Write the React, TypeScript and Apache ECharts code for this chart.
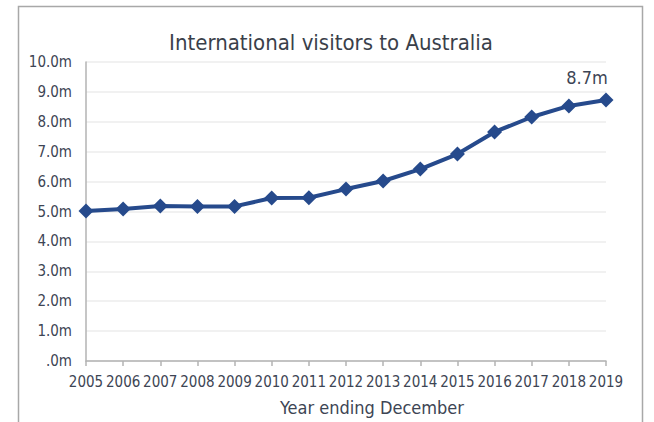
import React, { useEffect, useRef } from "react";
import * as echarts from "echarts";

const years = ["2005", "2006", "2007", "2008", "2009", "2010", "2011", "2012", "2013", "2014", "2015", "2016", "2017", "2018", "2019"];
const visitors = [5.02, 5.08, 5.18, 5.17, 5.17, 5.45, 5.46, 5.75, 6.02, 6.42, 6.92, 7.66, 8.16, 8.53, 8.73];
const titleText = "International visitors to Australia";
const xAxisTitle = "Year ending December";

const FONT = "'DejaVu Sans Condensed', 'DejaVu Sans', sans-serif";
const TEXT = "#3d4554";

export default function App() {
  const ref = useRef<HTMLDivElement>(null);
  useEffect(() => {
    if (!ref.current) return;
    const chart = echarts.init(ref.current, null, { renderer: "svg" });
    const last = visitors.length - 1;
    chart.setOption({
      animation: false,
      backgroundColor: "#ffffff",
      graphic: [
        {
          type: "rect",
          shape: { x: 18.5, y: 6.5, width: 624, height: 440 },
          style: { fill: "none", stroke: "#a8a8a8", lineWidth: 1.5 },
          silent: true,
        },
        {
          type: "text",
          x: 331,
          y: 42,
          style: {
            text: titleText,
            fontFamily: FONT,
            fontSize: 22,
            fill: "#3a3f4a",
            align: "center",
            verticalAlign: "middle",
          },
        },
        {
          type: "text",
          x: 372,
          y: 407,
          style: {
            text: xAxisTitle,
            fontFamily: FONT,
            fontSize: 18,
            fill: TEXT,
            align: "center",
            verticalAlign: "middle",
          },
        },
      ],
      grid: { left: 86, right: 48, top: 62, bottom: 61, containLabel: false },
      xAxis: {
        type: "category",
        data: years,
        boundaryGap: false,
        axisLine: { lineStyle: { color: "#b3b3b3", width: 1.5 } },
        axisTick: { show: true, length: 5, lineStyle: { color: "#b3b3b3", width: 1.5 } },
        axisLabel: { fontFamily: FONT, fontSize: 15, color: TEXT, margin: 13, interval: 0 },
        splitLine: { show: false },
      },
      yAxis: {
        type: "value",
        min: 0,
        max: 10,
        interval: 1,
        axisLine: { show: true, lineStyle: { color: "#b3b3b3", width: 1.5 } },
        axisTick: { show: false },
        axisLabel: {
          fontFamily: FONT,
          fontSize: 15,
          color: TEXT,
          margin: 14,
          formatter: (v: number) => (v === 0 ? ".0m" : v.toFixed(1) + "m"),
        },
        splitLine: { show: true, lineStyle: { color: "#ededed", width: 1.5 } },
      },
      series: [
        {
          type: "line",
          data: visitors.map((v, i) =>
            i === last
              ? {
                  value: v,
                  label: {
                    show: true,
                    position: "top",
                    offset: [-19, -1],
                    formatter: (p: any) => p.value.toFixed(1) + "m",
                    fontFamily: FONT,
                    fontSize: 18,
                    color: TEXT,
                  },
                }
              : v
          ),
          symbol: "diamond",
          symbolSize: 15,
          lineStyle: { color: "#264a8c", width: 4 },
          itemStyle: { color: "#264a8c" },
        },
      ],
    });
    return () => chart.dispose();
  }, []);
  return (
    <div
      ref={ref}
      style={{ position: "fixed", left: 0, top: 0, width: 654, height: 422, background: "#fff" }}
    />
  );
}
